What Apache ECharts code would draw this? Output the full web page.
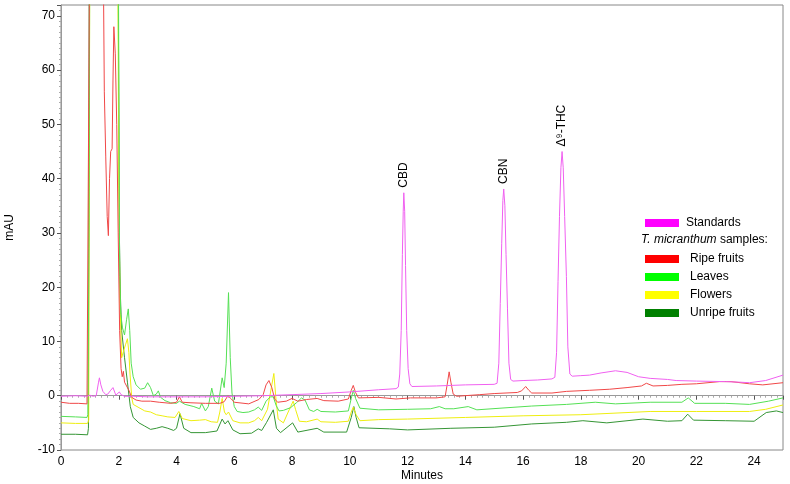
<!DOCTYPE html>
<html><head><meta charset="utf-8">
<script src="https://cdn.jsdelivr.net/npm/echarts@6/dist/echarts.min.js"></script>
<style>html,body{margin:0;padding:0;background:#fff}#c{width:790px;height:484px}</style>
</head><body><div id="c"></div>
<script>
// ---- data (time in minutes, absorbance in mAU) ----
const seriesNames = ['Standards', 'Ripe fruits', 'Leaves', 'Flowers', 'Unripe fruits'];
const legendColors = ['#ff00ff', '#ff0000', '#00ff00', '#ffff00', '#008000'];
const lineColors = ['#f060f0', '#f04848', '#55e055', '#eeee10', '#359535'];

const xTickStep = 2;          // minute labels 0,2,...,24
const yTickStep = 10;         // mAU labels -10,0,...,70
const xRange = [0, 25];
const yRange = [-10, 72];

const standardsPts = [[0,-0.1],[0.5,0],[0.9,-0.1],[1.0,0.1],[1.1,-0.1],[1.22,0],[1.3,2.5],[1.33,3.3],[1.38,2.0],[1.45,0.8],[1.55,0.2],[1.62,0.3],[1.72,1.0],[1.8,1.5],[1.85,1.2],[1.9,0.1],[1.95,0],[2.02,0.7],[2.08,0.2],[2.2,-0.1],[2.5,-0.1],[3.0,-0.2],[4.0,-0.2],[5.0,-0.2],[6.0,-0.1],[7.0,0],[8.0,0.2],[9.0,0.4],[10.0,0.7],[11.0,1.1],[11.6,1.3],[11.68,1.6],[11.73,4],[11.78,12],[11.82,26],[11.85,34],[11.87,37.4],[11.9,34],[11.93,24],[11.97,12],[12.02,5],[12.08,2.2],[12.15,1.7],[13.0,1.8],[14.0,2.0],[15.0,2.1],[15.1,2.3],[15.16,6],[15.21,17],[15.26,28],[15.3,36],[15.33,38.1],[15.37,35],[15.41,26],[15.46,16],[15.51,6],[15.57,3],[15.65,2.7],[16.0,2.8],[16.5,2.9],[17.0,3.1],[17.1,3.4],[17.16,8],[17.21,21],[17.26,33],[17.31,42],[17.35,45.0],[17.39,42],[17.44,33],[17.5,22],[17.55,9],[17.62,4],[17.7,3.6],[18.0,3.7],[18.3,3.8],[18.7,4.2],[19.2,4.6],[19.6,4.3],[20.0,3.5],[20.4,3.2],[21.0,3.0],[21.3,2.8],[22.0,2.7],[23.0,2.6],[23.5,2.5],[23.84,2.4],[24.4,2.8],[25.0,3.8]];

const ripePts = [[0,-1.2],[0.3,-1.4],[0.6,-1.4],[0.9,-1.5],[0.96,-1.5],[1.0,90],[1.45,90],[1.5,56],[1.55,44],[1.6,33],[1.64,29.5],[1.68,40],[1.72,45],[1.77,45.5],[1.8,58],[1.83,68],[1.88,63],[1.93,50],[1.98,30],[2.03,12],[2.08,5],[2.12,3.5],[2.16,4.5],[2.2,2.5],[2.27,1.8],[2.35,1.0],[2.45,-0.3],[2.6,-0.8],[2.8,-1.0],[3.1,-1.0],[3.4,-1.2],[3.8,-1.4],[4.0,-1.2],[4.1,-0.2],[4.2,-1.2],[4.5,-1.3],[5.0,-1.4],[5.5,-1.4],[5.65,-1.1],[5.78,0.0],[5.9,-0.6],[6.0,-1.2],[6.5,-1.5],[6.85,-0.7],[7.0,0.2],[7.1,2.0],[7.2,2.8],[7.3,1.5],[7.4,-0.6],[7.5,-1.2],[7.8,-1.0],[8.0,-0.5],[8.2,-1.0],[8.5,-0.7],[8.87,-0.5],[9.1,-0.9],[9.6,-1.0],[9.95,-0.6],[10.05,1.0],[10.12,1.9],[10.2,0.6],[10.3,-0.4],[11.0,-0.3],[11.6,-0.6],[12.1,-0.4],[13.0,-0.4],[13.3,-0.2],[13.37,2.0],[13.44,4.4],[13.5,2.5],[13.58,0.3],[13.7,-0.1],[14.5,0.2],[15.0,0.4],[15.8,0.6],[15.95,0.9],[16.09,1.7],[16.2,1.0],[16.3,0.5],[17.0,0.5],[17.5,0.8],[18.3,1.0],[19.0,1.2],[19.6,1.5],[20.1,1.8],[20.27,2.3],[20.5,1.8],[21.0,1.9],[21.5,2.1],[22.0,2.2],[22.8,2.6],[23.2,2.6],[23.84,2.2],[24.3,2.0],[25,2.4]];

const leavesPts = [[0,-3.8],[0.5,-3.9],[0.9,-4.0],[0.93,-3.5],[0.97,30],[1.0,90],[1.98,90],[2.03,22],[2.07,15],[2.13,12.5],[2.2,11.2],[2.27,14],[2.33,16],[2.38,12],[2.43,6],[2.5,3.5],[2.6,2],[2.75,1.2],[2.9,1.4],[3.0,2.4],[3.1,1.5],[3.2,0.0],[3.3,0.3],[3.37,0.9],[3.45,-0.3],[3.6,-0.9],[3.8,-1.3],[4.0,-1.4],[4.1,-1.0],[4.3,-1.6],[4.6,-2.0],[4.8,-2.4],[4.87,-1.4],[5.0,-2.8],[5.1,-2.0],[5.22,1.4],[5.32,-1.0],[5.45,-1.5],[5.58,3.3],[5.65,1.5],[5.72,6],[5.8,19],[5.86,7],[5.92,0.5],[6.0,-2.0],[6.1,-2.9],[6.3,-3.1],[6.5,-3.0],[6.7,-2.6],[6.83,-2.1],[6.95,-2.7],[7.1,-1.0],[7.25,-0.2],[7.35,-0.2],[7.45,-1.8],[7.55,-2.8],[7.7,-2.7],[7.95,-2.2],[8.15,-1.3],[8.33,-0.4],[8.45,-0.8],[8.6,-2.6],[8.75,-2.9],[8.87,-2.5],[9.0,-2.9],[9.5,-3.0],[9.95,-2.8],[10.05,-0.5],[10.12,1.0],[10.2,-0.5],[10.35,-2.3],[11.0,-2.6],[12.0,-2.5],[12.8,-2.4],[13.1,-2.0],[13.3,-2.4],[13.6,-2.4],[14.1,-2.0],[14.4,-2.6],[15.2,-2.3],[16.3,-1.9],[17.5,-1.6],[18.5,-1.2],[19.2,-1.5],[20.4,-1.2],[21.5,-1.2],[21.72,-0.4],[21.94,-1.4],[23.0,-1.4],[23.84,-1.6],[24.5,-1.0],[25,-0.4]];

const flowersPts = [[0,-5.0],[0.5,-5.1],[0.92,-5.1],[0.96,-4.5],[1.0,90],[1.96,90],[2.0,40],[2.04,18],[2.1,7.0],[2.18,8.5],[2.24,9.5],[2.3,10.5],[2.35,8],[2.39,4.0],[2.45,-0.4],[2.5,-1.6],[2.7,-2.2],[2.9,-2.8],[3.1,-3.0],[3.3,-3.5],[3.5,-3.7],[3.7,-3.9],[3.95,-4.0],[4.08,-2.9],[4.2,-4.2],[4.5,-4.6],[4.8,-4.5],[5.0,-4.4],[5.2,-4.8],[5.42,-4.9],[5.5,-3.0],[5.58,-0.5],[5.66,-3.0],[5.72,-3.5],[5.8,-3.0],[5.95,-4.6],[6.2,-5.0],[6.5,-5.0],[6.7,-4.6],[6.83,-4.0],[6.95,-4.6],[7.15,-2.5],[7.3,2.0],[7.37,4.1],[7.45,-1.0],[7.52,-4.3],[7.7,-5.0],[7.95,-2.0],[8.04,-1.0],[8.12,-2.5],[8.25,-4.7],[8.5,-4.8],[8.87,-4.3],[9.0,-4.8],[9.5,-4.9],[9.95,-4.7],[10.05,-3.0],[10.12,-2.1],[10.22,-3.5],[10.35,-4.6],[11,-4.4],[12,-4.3],[14,-4.0],[16,-3.7],[18,-3.5],[20.4,-2.9],[22,-2.9],[23.84,-2.9],[24.4,-2.5],[25,-1.7]];

const unripePts = [[0,-7.1],[0.5,-7.1],[0.92,-7.2],[0.95,-6],[0.98,90],[1.97,90],[2.02,30],[2.06,18],[2.1,12],[2.2,7],[2.3,2.5],[2.4,-2.0],[2.5,-4.0],[2.7,-5.0],[2.9,-5.6],[3.1,-6.2],[3.3,-6.0],[3.5,-5.7],[3.7,-6.0],[3.9,-6.4],[4.0,-6.0],[4.12,-3.3],[4.25,-6.0],[4.5,-6.8],[5.0,-6.8],[5.4,-6.5],[5.58,-4.3],[5.68,-5.2],[5.78,-4.6],[5.95,-6.3],[6.2,-7.0],[6.6,-6.9],[6.83,-6.1],[6.95,-6.4],[7.12,-4.9],[7.35,-2.6],[7.46,-6.0],[7.6,-6.8],[8.02,-5.0],[8.2,-6.7],[8.87,-6.0],[9.1,-6.7],[9.89,-6.7],[10.05,-4.0],[10.14,-2.0],[10.22,-4.0],[10.32,-5.9],[11.38,-6.1],[12,-6.3],[13.5,-6.0],[15,-5.8],[16.3,-5.2],[17.5,-4.9],[18.07,-4.6],[18.9,-5.0],[20.15,-4.3],[21.0,-4.7],[21.5,-4.6],[21.7,-3.4],[21.9,-4.5],[23,-4.6],[24.0,-4.7],[24.42,-3.1],[24.77,-2.8],[25,-3.1]];

const peakLabels = [
  {name: 'CBD', t: 11.87, v: 37.4},
  {name: 'CBN', t: 15.33, v: 38.1},
  {name: 'Δ⁹-THC', t: 17.35, v: 45.0}
];
const legendHeader = 'samples:';
const legendHeaderItalic = 'T. micranthum';

// ---- chart ----
const allPts = [standardsPts, ripePts, leavesPts, flowersPts, unripePts];
const FONT = '"Liberation Sans", Arial, sans-serif';
const chart = echarts.init(document.getElementById('c'), null, {renderer: 'canvas'});

const series = seriesNames.map((n, i) => ({
  name: n,
  type: 'line',
  data: allPts[i],
  symbol: 'none',
  showSymbol: false,
  clip: true,
  z: 10 - i,
  lineStyle: {width: 1, color: lineColors[i]},
  itemStyle: {color: legendColors[i]},
  emphasis: {disabled: true},
  silent: true
}));
series[0].markPoint = {
  symbol: 'circle', symbolSize: 0, silent: true,
  data: peakLabels.map(p => ({coord: [p.t, p.v], name: p.name})),
  label: {
    show: true, position: 'top', distance: 5, rotate: 90,
    align: 'left', verticalAlign: 'middle',
    formatter: p => p.name, color: '#000', fontSize: 12, fontFamily: FONT
  }
};

const legendCommon = {
  orient: 'vertical', left: 645, padding: 0, itemWidth: 34, itemHeight: 8, itemGap: 6,
  icon: 'rect', selectedMode: false,
  textStyle: {fontSize: 12, color: '#000', fontFamily: FONT}
};

chart.setOption({
  animation: false,
  textStyle: {fontFamily: FONT},
  grid: {left: 61, right: 7, top: 5, bottom: 34, containLabel: false, outerBoundsMode: 'none',
         show: true, borderColor: '#888', borderWidth: 1, backgroundColor: 'transparent'},
  xAxis: {
    type: 'value', min: xRange[0], max: xRange[1], interval: xTickStep,
    name: 'Minutes', nameLocation: 'middle', nameGap: 20, nameMoveOverlap: false,
    nameTextStyle: {fontSize: 12, color: '#000', fontFamily: FONT},
    axisLine: {show: true, lineStyle: {color: '#999'}},
    axisTick: {show: true, length: 4, lineStyle: {color: '#555'}},
    minorTick: {show: true, splitNumber: 10, length: 2, lineStyle: {color: '#aaa'}},
    axisLabel: {color: '#000', fontSize: 12, margin: 6, showMaxLabel: false, fontFamily: FONT},
    splitLine: {show: false}
  },
  yAxis: {
    type: 'value', min: yRange[0], max: yRange[1], interval: yTickStep,
    name: 'mAU', nameLocation: 'middle', nameGap: 45, nameRotate: 90, nameMoveOverlap: false,
    nameTextStyle: {fontSize: 12, color: '#000', fontFamily: FONT},
    axisLine: {show: true, lineStyle: {color: '#999'}},
    axisTick: {show: true, length: 4, lineStyle: {color: '#555'}},
    minorTick: {show: true, splitNumber: 10, length: 2, lineStyle: {color: '#aaa'}},
    axisLabel: {color: '#000', fontSize: 12, margin: 6, showMaxLabel: false, fontFamily: FONT},
    splitLine: {show: false}
  },
  legend: [
    Object.assign({}, legendCommon, {
      top: 217,
      data: [{name: seriesNames[0], itemStyle: {color: legendColors[0]}}],
      textStyle: {fontSize: 12, color: '#000', fontFamily: FONT, padding: [0, 0, 0, 2]}
    }),
    Object.assign({}, legendCommon, {
      top: 253,
      data: seriesNames.slice(1).map((n, i) => ({name: n, itemStyle: {color: legendColors[i + 1]}})),
      textStyle: {fontSize: 12, color: '#000', fontFamily: FONT, padding: [0, 0, 0, 6]}
    })
  ],
  graphic: [{
    type: 'text', left: 641, top: 234,
    style: {
      text: '{i|' + legendHeaderItalic + '} ' + legendHeader,
      fontSize: 12, fill: '#000', fontFamily: FONT,
      rich: {i: {fontStyle: 'italic', fontSize: 12, fontFamily: FONT, fill: '#000'}}
    }
  }],
  series: series
});
</script>
</body></html>
